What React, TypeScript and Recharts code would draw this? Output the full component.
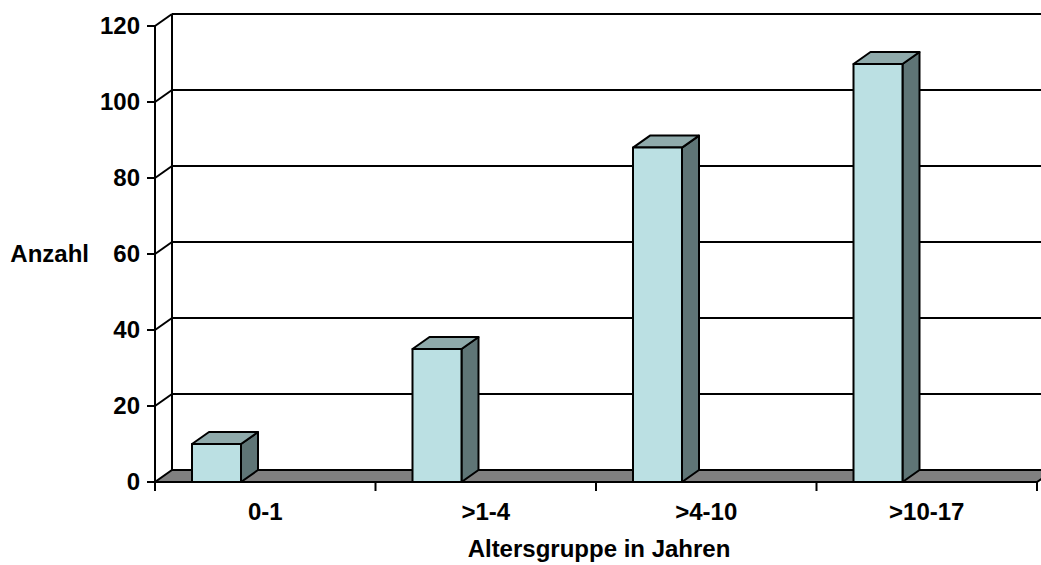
import { BarChart, Bar, XAxis, YAxis, CartesianGrid } from "recharts";

const CATEGORIES = ["0-1", ">1-4", ">4-10", ">10-17"];
const COUNTS = [10, 35, 88, 110];
const Y_TICKS = [0, 20, 40, 60, 80, 100, 120];

const data = CATEGORIES.map((name, i) => ({ name, count: COUNTS[i] }));

const W = 1041;
const H = 565;
const Y_AXIS_W = 155;
const MARGIN = { top: 26, right: 4, bottom: 23, left: 0 };
const X_AXIS_H = 60;
// oblique depth of the 3d box
const DX = 17;
const DY = 12;
const BAR_W = 49;
const BAR_SHIFT = 49;
const HALF_BAND = (W - MARGIN.left - MARGIN.right - Y_AXIS_W) / CATEGORIES.length / 2;

const FONT = "'Liberation Sans', Arial, sans-serif";
const FS = 24;
const FRONT = "#bbe0e3";
const TOP = "#8faaab";
const SIDE = "#5f7576";
const FLOOR = "#808080";

function GridLine(p: any) {
  const { x1, x2, y1, index, x, y, height } = p;
  const bottom = y + height;
  const isFloor = Math.abs(y1 - bottom) < 0.5;
  return (
    <g key={`grid-${index}`}>
      {isFloor ? (
        <polygon
          points={`${x1},${y1} ${x2},${y1} ${x2 + DX},${y1 - DY} ${x1 + DX},${y1 - DY}`}
          fill={FLOOR}
          stroke="#000"
          strokeWidth={2}
        />
      ) : (
        <>
          <line x1={x1} y1={y1} x2={x1 + DX} y2={y1 - DY} stroke="#000" strokeWidth={2} />
          <line x1={x1 + DX} y1={y1 - DY} x2={x2 + DX} y2={y1 - DY} stroke="#000" strokeWidth={2} />
        </>
      )}
      {index === 0 && (
        <line x1={x + DX} y1={y - DY} x2={x + DX} y2={bottom - DY} stroke="#000" strokeWidth={2} />
      )}
    </g>
  );
}

function Box(p: any) {
  const { x, y, width, height } = p;
  const fx = x - BAR_SHIFT;
  const r = fx + width;
  const b = y + height;
  return (
    <g stroke="#000" strokeWidth={2} strokeLinejoin="round">
      <polygon points={`${r},${y} ${r + DX},${y - DY} ${r + DX},${b - DY} ${r},${b}`} fill={SIDE} />
      <polygon points={`${fx},${y} ${r},${y} ${r + DX},${y - DY} ${fx + DX},${y - DY}`} fill={TOP} />
      <rect x={fx} y={y} width={width} height={height} fill={FRONT} />
    </g>
  );
}

function XTick(p: any) {
  const { x, y, payload, index } = p;
  const last = index === CATEGORIES.length - 1;
  return (
    <g>
      <line x1={x - HALF_BAND} y1={y} x2={x - HALF_BAND} y2={y + 9} stroke="#000" strokeWidth={2} />
      {last && (
        <line x1={x + HALF_BAND} y1={y} x2={x + HALF_BAND} y2={y + 9} stroke="#000" strokeWidth={2} />
      )}
      <text x={x} y={y + 38} textAnchor="middle" fontFamily={FONT} fontWeight="bold" fontSize={FS} fill="#000">
        {payload.value}
      </text>
    </g>
  );
}

function YTick(p: any) {
  const { x, y, payload } = p;
  return (
    <text x={x + 1} y={y + 8} textAnchor="end" fontFamily={FONT} fontWeight="bold" fontSize={FS} fill="#000">
      {payload.value}
    </text>
  );
}

export default function App() {
  return (
    <div style={{ width: W, height: H, background: "#fff" }}>
      <style>{`body{margin:0}`}</style>
      <BarChart width={W} height={H} data={data} margin={MARGIN}>
        <CartesianGrid horizontal={GridLine} vertical={false} />
        <XAxis
          dataKey="name"
          height={X_AXIS_H}
          axisLine={{ stroke: "#000", strokeWidth: 2 }}
          tickLine={false}
          tickSize={0}
          tickMargin={0}
          tick={XTick}
          label={{
            content: (lp: any) => {
              const vb = lp.viewBox;
              return (
                <text
                  x={vb.x + vb.width / 2 + 3}
                  y={vb.y + 75}
                  textAnchor="middle"
                  fontFamily={FONT}
                  fontWeight="bold"
                  fontSize={FS}
                  fill="#000"
                >
                  Altersgruppe in Jahren
                </text>
              );
            },
          }}
        />
        <YAxis
          width={Y_AXIS_W}
          domain={[0, 120]}
          ticks={Y_TICKS}
          allowDataOverflow
          axisLine={{ stroke: "#000", strokeWidth: 2 }}
          tickLine={{ stroke: "#000", strokeWidth: 2 }}
          tickSize={8}
          tickMargin={8}
          tick={YTick}
          label={{
            content: (lp: any) => {
              const vb = lp.viewBox;
              return (
                <text
                  x={vb.x + 89}
                  y={vb.y + vb.height / 2 + 8}
                  textAnchor="end"
                  fontFamily={FONT}
                  fontWeight="bold"
                  fontSize={FS}
                  fill="#000"
                >
                  Anzahl
                </text>
              );
            },
          }}
        />
        <Bar dataKey="count" barSize={BAR_W} shape={Box} isAnimationActive={false} />
      </BarChart>
    </div>
  );
}
